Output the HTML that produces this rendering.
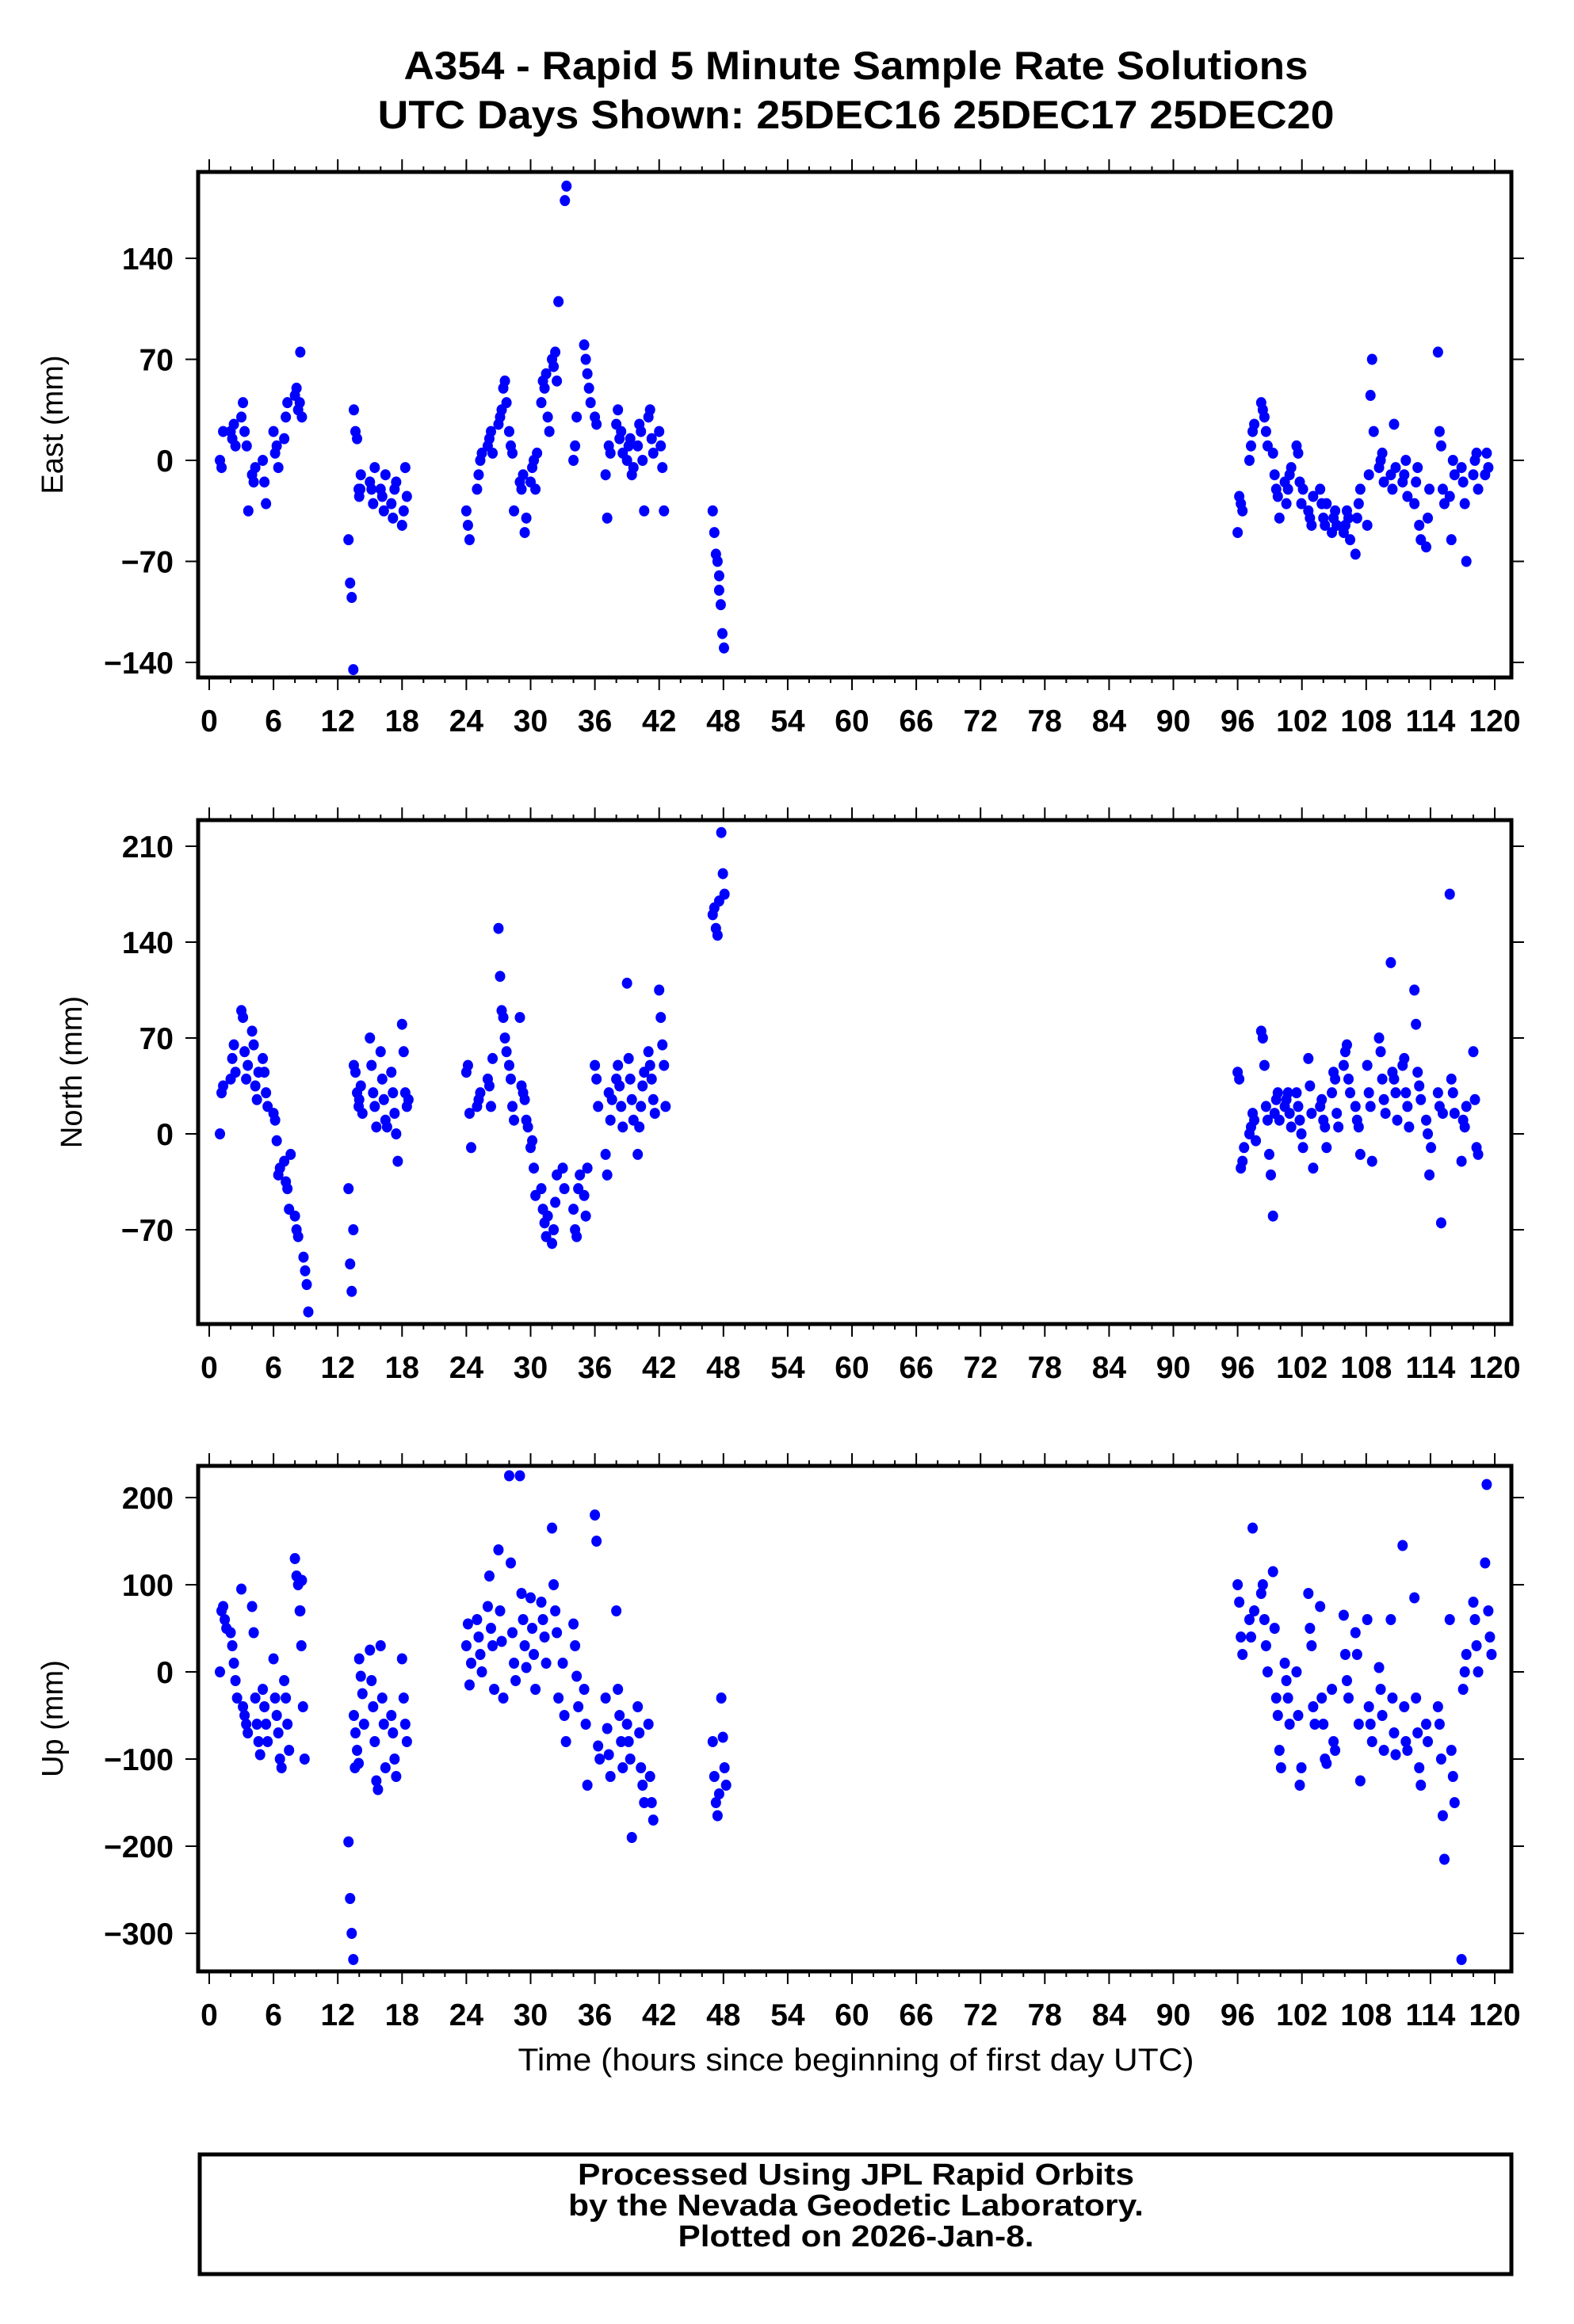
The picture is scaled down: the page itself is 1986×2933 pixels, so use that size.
<!DOCTYPE html>
<html><head><meta charset="utf-8"><style>
html,body{margin:0;padding:0;background:#fff;}
svg{display:block;font-family:"Liberation Sans",sans-serif;}
</style></head><body>
<svg id="chart" width="1986" height="2933" viewBox="0 0 1986 2933" xmlns="http://www.w3.org/2000/svg">
<text x="1080" y="100" text-anchor="middle" font-size="50" font-weight="bold" textLength="1141" lengthAdjust="spacingAndGlyphs">A354 - Rapid 5 Minute Sample Rate Solutions</text>
<text x="1080" y="162" text-anchor="middle" font-size="50" font-weight="bold" textLength="1207" lengthAdjust="spacingAndGlyphs">UTC Days Shown:  25DEC16 25DEC17 25DEC20</text>
<text x="1080" y="2613" text-anchor="middle" font-size="40" textLength="853" lengthAdjust="spacingAndGlyphs">Time (hours since beginning of first day UTC)</text>
<rect x="252" y="2719" width="1655" height="151" fill="none" stroke="#000" stroke-width="5"/>
<text x="1080" y="2757" text-anchor="middle" font-size="38" font-weight="bold" textLength="702" lengthAdjust="spacingAndGlyphs">Processed Using JPL Rapid Orbits</text>
<text x="1080" y="2796" text-anchor="middle" font-size="38" font-weight="bold" textLength="726" lengthAdjust="spacingAndGlyphs">by the Nevada Geodetic Laboratory.</text>
<text x="1080" y="2835" text-anchor="middle" font-size="38" font-weight="bold" textLength="449" lengthAdjust="spacingAndGlyphs">Plotted on 2026-Jan-8.</text>
</svg>
<script>
const xTicks = [0,6,12,18,24,30,36,42,48,54,60,66,72,78,84,90,96,102,108,114,120];
const eastTicks = [-140,-70,0,70,140];
const northTicks = [-70,0,70,140,210];
const upTicks = [-300,-200,-100,0,100,200];
// rows: [hour, values...]
const eastRows = [
[1,0,-5,20],[2,20,15,25,10],[3,30,40,20],[3.5,10,-35],[4,-10,-15,-5],[5,0,-15,-30],[6,20,5,10,-5],[7,15,30,40],[8,45,50,35,40],[8.5,75,30],
[13,-55,-85,-95,-145],[13.5,35,20,15,-20,-20],[14,-25,-10],[15,-15,-20,-30,-5],[16,-20,-25,-35,-10],[17,-30,-40,-20,-15],[18,-45,-35,-5,-25],
[24,-35,-45,-55],[25,-20,-10,0,5],[26,10,15,20,5],[27,25,30,35,50,55,40],[28,20,10,5,-35],[29,-15,-20,-10,-50,-40],[30,-15,-5,0,-20,5],[31,40,55,50,60,30,20],[32,70,65,75,55,110],[33.2,180,190],[34,0,10,30],[35,80,70,60,50,40],[36,30,25],[37,-10,-40,10,5],[38,25,35,15,20,5],[39,0,10,15,-10,-5],[40,10,25,20,0,-35],[41,30,35,15,5],[42,20,10,-5,-35],
[47,-35,-50,-65,-70,-80],[47.6,-90,-100,-120,-130],
[96,-50,-25,-30,-35],[97.1,0,10,20,25],[98.2,40,35,30,20,10],[99.3,5,-10,-20,-25,-40],[100.4,-15,-30,-20,-10,-5],[101.5,10,5,-15,-30,-20],[102.6,-35,-40,-45,-25],[103.7,-20,-30,-40,-45,-30],[104.8,-50,-40,-35,-45],[105.9,-50,-45,-35,-40,-55],[107,-65,-40,-30,-20],[108.1,-45,-10,45,70,20],[109.2,-5,0,5,-15],[110.3,-10,-20,25,-5],[111.4,-15,-10,0,-25],[112.5,-30,-15,-5,-45,-55],[113.6,-60,-40,-20],[114.7,75,20,10,-20,-30],[115.8,-25,-55,0,-10],[116.9,-5,-15,-30,-70],[118,-10,0,5,-20],[119.1,-10,5,-5]
];
const northRows = [
[1,0,30,35],[2,40,55,65,45],[3,90,85,60,40,50],[4,75,65,35,25,45],[5,55,45,30,20],[6,15,10,-5,-30,-25],[7,-20,-35,-40,-55,-15],[8,-60,-70,-75],[8.8,-90,-100,-110,-130],
[13,-40,-95,-115,-70],[13.5,50,45,30,20],[14,25,35,15],[15,70,50,30,20,5],[16,60,40,25,10,5],[17,45,30,15,0,-20],[18,80,60,30,20,25],
[24,45,50,15,-10],[25,20,25,30],[26,40,35,20,55],[27,150,115,90,85,70,60],[28,50,40,20,10],[29,85,35,30,25,10,5],[30,-10,-5,-25,-45],[31,-40,-55,-65,-75,-60],[32,-80,-70,-50,-30],[33,-25,-40],[34,-55,-70,-75,-40,-30],[35,-45,-60,-25],[36,50,40,20],[37,-15,-30,30,10,25],[38,40,50,35,20,5],[39,110,55,40,25,10],[40,-15,5,20,35,45],[41,60,50,40,25,15],[42,105,85,65,50,20],
[47,160,165,150,145,170],[47.8,220,190,175],
[96,45,40,-25,-20,-10],[97.1,0,5,15,10,-5],[98.2,75,70,50,20,10,-15,-30],[99.3,-60,15,25,30,10],[100.4,20,25,30,15,5],[101.5,30,20,10,0,-10],[102.6,55,35,15,-25],[103.7,20,25,10,5,-10],[104.8,30,45,40,15,5],[105.9,50,60,65,40,30],[107,20,10,5,-15],[108.1,50,30,20,-20],[109.2,70,60,40,25,15],[110.3,125,45,40,30,10],[111.4,50,55,30,20,5],[112.5,105,80,45,35,25],[113.6,10,0,-30,-10],[114.7,30,20,-65,15],[115.8,175,40,30,15],[116.9,-20,10,5,20],[118,60,25,-10,-15]
];
const upRows = [
[1,0,70,75,60,50],[2,45,30,10,-10,-30],[3,95,-40,-50,-60,-70],[4,75,45,-30,-60,-80,-95],[5,-20,-40,-60,-80],[6,15,-30,-50,-70,-100,-110],[7,-10,-30,-60,-90],[8,130,110,100,70,30,-40,-100],[8.5,70,105],
[13,-195,-260,-300,-330,-110],[13.5,-50,-70,-90,-105],[14,15,-5,-25,-60],[15,25,-10,-40,-80,-125,-135],[16,30,-30,-60,-110],[17,-50,-70,-100,-120],[18,15,-30,-60,-80],
[24,30,55,-15,10],[25,60,40,20,0],[26,75,110,50,30,-20],[27,140,70,35,-30],[28,225,125,45,10,-10],[29,225,90,60,30,5],[30,85,50,20,-20],[31,80,60,40,10],[32,165,100,70,45,-30],[33,10,-50,-80],[34,55,30,-5,-40],[35,-20,-60,-130],[36,180,150,-85,-100],[37,-30,-65,-95,-120],[38,70,-20,-50,-80,-110],[39,-60,-80,-100,-190],[40,-40,-70,-110,-130,-150],[41,-60,-120,-150,-170],
[47,-80,-120,-150,-165,-140],[47.8,-30,-75,-110,-130],
[96,100,80,40,20],[97.1,60,40,165,70],[98.2,90,100,60,30,0],[99.3,115,50,-30,-50,-90,-110],[100.4,10,-10,-30,-60],[101.5,0,-50,-130,-110],[102.6,90,50,30,-40,-60],[103.7,75,-30,-60,-100,-105],[104.8,-20,-80,-90],[105.9,65,20,-10,-30],[107,45,20,-60,-125],[108.1,60,-40,-60,-80],[109.2,5,-20,-50,-90],[110.3,60,-30,-70,-95],[111.4,145,-40,-80,-90],[112.5,85,-30,-70,-110,-130],[113.6,-60,-80],[114.7,-40,-60,-100,-165,-215],[115.8,60,-90,-120,-150],[116.9,-330,-20,0,20],[118,80,60,30,0],[119.1,125,215,70,40,20]
];
const NS='http://www.w3.org/2000/svg';
const svg=document.getElementById('chart');
const X0=250,X1=1907;
function xs(t){return 264+(t/120)*(1886-264);}
function mk(tag,attrs,parent){const e=document.createElementNS(NS,tag);for(const k in attrs)e.setAttribute(k,attrs[k]);(parent||svg).appendChild(e);return e;}
function panel(name,top,bottom,y0,ppu,ticks,rows,title,titleX){
  const ys=v=>y0-v*ppu;
  const g=mk('g',{});
  
  
  for(let h=0;h<=120;h+=2){
    const x=xs(h),maj=h%6===0,L=maj?16:7;
    const t1=mk('line',{x1:x,x2:x,y1:top,y2:top-L,stroke:'#000','stroke-width':2},g);
    
    
    const t2=mk('line',{x1:x,x2:x,y1:bottom,y2:bottom+L,stroke:'#000','stroke-width':2},g);
    
    
  }
  xTicks.forEach(h=>{
    const t=mk('text',{x:xs(h),y:bottom+68,'text-anchor':'middle','font-size':39,'font-weight':'bold'},g);
    t.textContent=h;
    
    
  });
  ticks.forEach(v=>{
    const y=ys(v);
    const a=mk('line',{x1:X0,x2:X0-16,y1:y,y2:y,stroke:'#000','stroke-width':2},g);
    
    
    const b=mk('line',{x1:X1,x2:X1+16,y1:y,y2:y,stroke:'#000','stroke-width':2},g);
    
    
    const t=mk('text',{x:219,y:y+14,'text-anchor':'end','font-size':39,'font-weight':'bold'},g);
    t.textContent=String(v).replace('-','\u2212');
    
    
  });
  const yt=mk('text',{x:titleX,y:(top+bottom)/2,'text-anchor':'middle','font-size':38,transform:'rotate(-90 '+titleX+' '+(top+bottom)/2+')'},g);
  yt.textContent=title;
  
  
  rows.forEach(r=>{
    for(let i=1;i<r.length;i++){
      const c=mk('ellipse',{cx:xs(r[0]+(i-1)*0.15),cy:ys(r[i]),rx:6.5,ry:7,fill:'#0000ff'},g);
      
      
    }
  });
  const f=mk('rect',{x:X0,y:top,width:X1-X0,height:bottom-top,fill:'none',stroke:'#000','stroke-width':5},g);
  
  
}
panel('east',217,855,581,255/140,eastTicks,eastRows,'East (mm)',79);
panel('north',1035,1671,1431,121/70,northTicks,northRows,'North (mm)',103);
panel('up',1850,2488,2110,1.1,upTicks,upRows,'Up (mm)',79);
</script>
</body></html>
